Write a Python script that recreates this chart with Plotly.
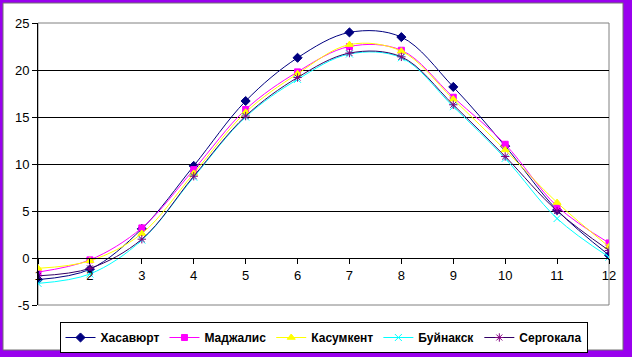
import plotly.graph_objects as go

months = [1, 2, 3, 4, 5, 6, 7, 8, 9, 10, 11, 12]
khasavyurt = [-2.3, -1.2, 3.1, 9.8, 16.7, 21.3, 24.0, 23.5, 18.2, 11.9, 5.1, 0.3]
madzhalis = [-1.5, -0.2, 3.2, 9.4, 15.8, 19.8, 22.5, 22.1, 17.1, 12.1, 5.5, 1.6]
kasumkent = [-1.1, -0.3, 2.6, 9.0, 15.5, 19.6, 22.7, 22.0, 16.9, 11.5, 5.9, 1.2]
buynaksk = [-2.7, -1.7, 1.9, 8.6, 15.0, 19.0, 21.7, 21.3, 16.1, 10.6, 4.2, 0.1]
sergokala = [-1.9, -1.1, 2.0, 8.7, 15.1, 19.2, 21.8, 21.4, 16.3, 10.8, 5.0, 0.8]
y_ticks = [-5, 0, 5, 10, 15, 20, 25]

series = [
    ("Хасавюрт", khasavyurt, "#000080", "#000080", "diamond", 7),
    ("Маджалис", madzhalis, "#FF00FF", "#FF00FF", "square", 6),
    ("Касумкент", kasumkent, "#FFFF00", "#FFFF00", "triangle-up", 7),
    ("Буйнакск", buynaksk, "#00FFFF", "#00FFFF", "x-thin-open", 7),
    ("Сергокала", sergokala, "#330066", "#800080", "asterisk-open", 7),
]

W, H = 632, 357
L, R, T, B = 38, 23, 23, 52
pw, ph = W - L - R, H - T - B

def px(x):
    return (x - L) / pw

def py(y):
    return (H - B - y) / ph

fig = go.Figure()
for name, vals, lc, mc, sym, sz in series:
    fig.add_trace(go.Scatter(
        x=months, y=vals, name=name, mode="lines+markers",
        line=dict(color=lc, width=1, shape="spline", smoothing=1),
        marker=dict(color=mc, symbol=sym, size=sz, line=dict(color=mc, width=1)),
    ))

fig.update_layout(
    width=W, height=H,
    margin=dict(l=L, r=R, t=T, b=B, pad=0, autoexpand=False),
    paper_bgcolor="#9900EE",
    plot_bgcolor="rgba(0,0,0,0)",
    font=dict(family="Liberation Sans, Arial", size=12, color="black"),
    showlegend=True,
    legend=dict(
        orientation="h", x=0.5, xanchor="center", y=py(337.5), yanchor="middle",
        bgcolor="white", bordercolor="black", borderwidth=1,
        font=dict(family="Liberation Sans, Arial", size=12, color="black", weight="bold"),
        itemwidth=30, tracegroupgap=0,
    ),
    shapes=[
        dict(type="rect", xref="paper", yref="paper",
             x0=px(3), x1=px(623), y0=py(350), y1=py(3),
             fillcolor="white", line=dict(color="#707070", width=1), layer="below"),
        dict(type="rect", xref="paper", yref="paper",
             x0=0, x1=1, y0=0, y1=1,
             fillcolor="rgba(0,0,0,0)", line=dict(color="#808080", width=1), layer="below"),
    ],
)

fig.update_xaxes(
    range=[1, 12], tickmode="array", tickvals=months, ticktext=[str(m) for m in months],
    showgrid=False, zeroline=False, showline=True, linecolor="black", linewidth=1,
    ticks="outside", ticklen=5, tickcolor="black", anchor="free", position=1/6,
    tickfont=dict(size=13, color="black"),
)
fig.update_yaxes(
    range=[-5, 25], tickmode="array", tickvals=y_ticks, ticktext=[str(v) for v in y_ticks],
    showgrid=True, gridcolor="black", gridwidth=1, zeroline=False,
    showline=True, linecolor="black", linewidth=1,
    ticks="outside", ticklen=5, tickcolor="black",
    tickfont=dict(size=13, color="black"),
)

fig.write_html(
    "out.html",
    config={"displayModeBar": False},
    post_script="document.body.style.margin='0';document.body.style.overflow='hidden';",
)
